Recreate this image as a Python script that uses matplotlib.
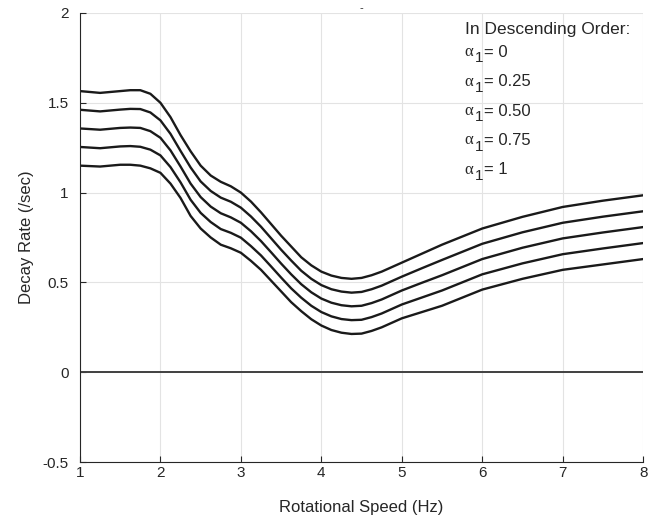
import matplotlib
matplotlib.use('Agg')
import matplotlib.pyplot as plt

plt.rcParams['font.family'] = ['Liberation Sans', 'DejaVu Sans']

# rotational speed (Hz)
speed = [1, 1.25, 1.5, 1.625, 1.75, 1.875, 2, 2.125, 2.25, 2.375, 2.5, 2.625, 2.75, 2.875,
         3, 3.125, 3.25, 3.375, 3.5, 3.625, 3.75, 3.875, 4, 4.125, 4.25, 4.375, 4.5, 4.625,
         4.75, 4.875, 5, 5.25, 5.5, 5.75, 6, 6.5, 7, 7.5, 8]

# decay rate (/sec), one list per alpha_1
decay_a0 = [1.565, 1.555, 1.565, 1.57, 1.57, 1.55, 1.50, 1.42, 1.32, 1.23, 1.15, 1.095, 1.06, 1.035,
            1.00, 0.95, 0.89, 0.825, 0.76, 0.70, 0.64, 0.595, 0.56, 0.538, 0.525, 0.52, 0.525, 0.54,
            0.56, 0.585, 0.61, 0.66, 0.71, 0.755, 0.80, 0.865, 0.92, 0.955, 0.985]
decay_a25 = [1.461, 1.452, 1.462, 1.466, 1.465, 1.446, 1.402, 1.327, 1.232, 1.14, 1.062, 1.009, 0.972, 0.949,
             0.916, 0.867, 0.81, 0.746, 0.682, 0.622, 0.565, 0.52, 0.485, 0.462, 0.449, 0.443, 0.447, 0.462,
             0.482, 0.507, 0.532, 0.579, 0.625, 0.67, 0.715, 0.779, 0.832, 0.866, 0.896]
decay_a50 = [1.357, 1.35, 1.36, 1.362, 1.36, 1.342, 1.305, 1.235, 1.145, 1.05, 0.975, 0.922, 0.885, 0.862,
             0.832, 0.785, 0.73, 0.668, 0.605, 0.545, 0.49, 0.445, 0.41, 0.387, 0.373, 0.367, 0.37, 0.385,
             0.405, 0.43, 0.455, 0.498, 0.54, 0.585, 0.63, 0.693, 0.745, 0.778, 0.808]
decay_a75 = [1.254, 1.247, 1.257, 1.259, 1.255, 1.239, 1.207, 1.142, 1.057, 0.96, 0.887, 0.836, 0.797, 0.776,
             0.749, 0.702, 0.65, 0.589, 0.527, 0.467, 0.415, 0.37, 0.335, 0.311, 0.296, 0.29, 0.292, 0.307,
             0.327, 0.352, 0.377, 0.416, 0.455, 0.50, 0.545, 0.606, 0.657, 0.689, 0.719]
decay_a100 = [1.15, 1.145, 1.155, 1.155, 1.15, 1.135, 1.11, 1.05, 0.97, 0.87, 0.80, 0.75, 0.71, 0.69,
              0.665, 0.62, 0.57, 0.51, 0.45, 0.39, 0.34, 0.295, 0.26, 0.235, 0.22, 0.213, 0.215, 0.23,
              0.25, 0.275, 0.30, 0.335, 0.37, 0.415, 0.46, 0.52, 0.57, 0.60, 0.63]

legend_title = 'In Descending Order:'
alpha_labels = ['0', '0.25', '0.50', '0.75', '1']

fig = plt.figure(figsize=(6.61, 5.18), dpi=100)
ax = fig.add_axes([0.121, 0.108, 0.852, 0.867])

for d in [decay_a0, decay_a25, decay_a50, decay_a75, decay_a100]:
    ax.plot(speed, d, color='#1a1a1a', lw=1.7, solid_capstyle='round', solid_joinstyle='round')

ax.axhline(0, color='#404040', lw=1.4)

ax.set_xlim(1, 8)
ax.set_ylim(-0.5, 2)
ax.set_xticks(range(1, 9))
ax.set_yticks([-0.5, 0, 0.5, 1, 1.5, 2])
ax.set_yticklabels(['-0.5', '0', '0.5', '1', '1.5', '2'])
ax.grid(True, color='#e3e3e3', lw=0.8)
ax.set_axisbelow(True)
for s in ['top', 'right']:
    ax.spines[s].set_visible(False)
for s in ['left', 'bottom']:
    ax.spines[s].set_color('#262626')
    ax.spines[s].set_linewidth(0.8)
ax.tick_params(direction='in', length=4, labelsize=11, colors='#262626')
ax.tick_params(axis='x', pad=3)
ax.tick_params(axis='y', pad=8)

ax.set_title('-', fontsize=8, color='#262626', pad=1)
ax.set_xlabel('Rotational Speed (Hz)', fontsize=12, color='#262626', labelpad=14)
ax.set_ylabel('Decay Rate (/sec)', fontsize=12, color='#262626', labelpad=6)

tx = 5.78
ax.text(tx, 1.91, legend_title, fontsize=12.5, color='#262626', va='center')
for i, lab in enumerate(alpha_labels):
    yy = 1.782 - i * 0.164
    ax.annotate('\u03b1', (tx, yy), xytext=(0, 0), textcoords='offset points',
                family='Liberation Serif', fontsize=12, color='#262626', va='center')
    ax.annotate('1', (tx, yy), xytext=(7.5, -4.5), textcoords='offset points',
                fontsize=11, color='#262626', va='center')
    ax.annotate('= ' + lab, (tx, yy), xytext=(14, 0), textcoords='offset points',
                fontsize=12, color='#262626', va='center')

fig.savefig('out.png', dpi=100)
